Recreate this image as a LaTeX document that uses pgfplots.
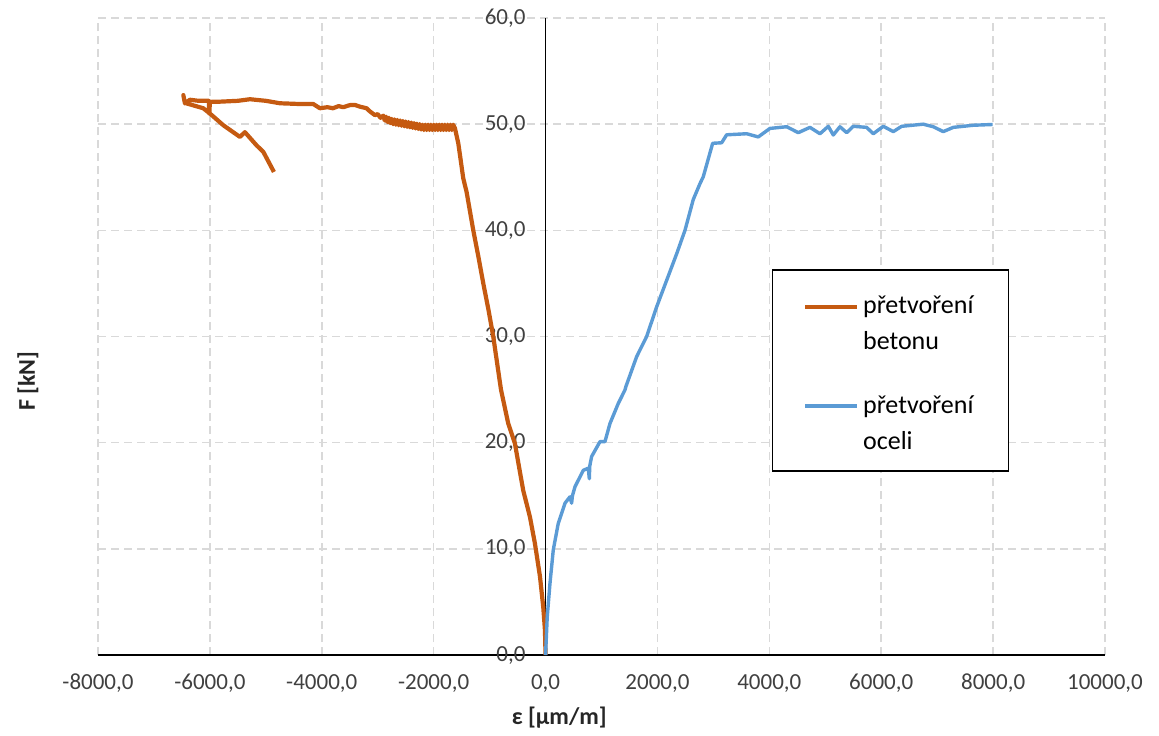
\documentclass[border=0pt]{standalone}
\usepackage{fontspec}
\setmainfont{Carlito}
\usepackage{pgfplots}
\pgfplotsset{compat=1.18}

\definecolor{beton}{RGB}{197,90,17}
\definecolor{ocel}{RGB}{91,155,213}
\definecolor{mrizka}{RGB}{217,217,217}
\definecolor{popis}{RGB}{64,64,64}

\begin{document}
\begin{tikzpicture}
\begin{axis}[
  at={(0,0)}, anchor=south west,
  scale only axis, width=503.5pt, height=318.5pt,
  xmin=-8000, xmax=10000, ymin=0, ymax=60,
  clip=false, scaled ticks=false,
  axis x line=bottom, axis y line=center,
  hide obscured x ticks=false, hide obscured y ticks=false,
  axis line style={-, black, line width=0.9pt},
  xtick={-8000,-6000,...,10000},
  xticklabels={{-8000,0},{-6000,0},{-4000,0},{-2000,0},{0,0},{2000,0},{4000,0},{6000,0},{8000,0},{10000,0}},
  ytick={0,10,...,60},
  yticklabels={{0,0},{10,0},{20,0},{30,0},{40,0},{50,0},{60,0}},
  major tick length=0pt,
  tick label style={font=\fontsize{11.5}{14}\selectfont, text=popis},
  xticklabel style={yshift=-6pt},
  yticklabel style={xshift=-6.5pt},
  grid=major,
  major grid style={draw=mrizka, line width=0.8pt, dash pattern=on 4pt off 2.5pt},
  legend style={at={(rel axis cs:0.669,0.606)}, anchor=north west,
    draw=black, line width=0.8pt, fill=white,
    inner xsep=15.5pt, inner ysep=7.5pt, row sep=13.5pt,
    font=\fontsize{13}{18}\selectfont,
    nodes={anchor=base west},
    /tikz/every even column/.append style={column sep=3pt}},
  legend image code/.code={\draw[#1, line width=1.8pt] (0pt,21.5pt) -- (26pt,21.5pt);},
]

% deformace betonu (tlak)
\addplot[beton, line width=2.1pt, line join=round] coordinates {
(0,0) (-11,2.35) (-41,4.5) (-100,7.4) (-190,10.5) (-279,13.0) (-399,15.5)
(-450,17.0) (-547,19.9) (-667,21.8) (-797,25.0) (-935,30.0) (-1020,32.5)
(-1113,35.0) (-1200,37.5) (-1292,40.0) (-1411,43.6) (-1471,44.9) (-1560,48.2)
(-1619,49.6)
(-1650,49.95) (-1675,49.45) (-1700,49.95) (-1725,49.45) (-1750,49.95) (-1775,49.45)
(-1800,49.95) (-1825,49.45) (-1850,49.95) (-1875,49.45) (-1900,49.95) (-1925,49.45)
(-1950,49.95) (-1975,49.45) (-2000,49.95) (-2025,49.45) (-2050,49.95) (-2075,49.45)
(-2100,49.95) (-2125,49.45) (-2150,49.95) (-2175,49.45) (-2200,49.95) (-2225,49.5)
(-2250,50.0) (-2275,49.55) (-2300,50.05) (-2325,49.6) (-2350,50.1) (-2375,49.65)
(-2400,50.15) (-2425,49.7) (-2450,50.2) (-2475,49.75) (-2500,50.25) (-2525,49.8)
(-2550,50.3) (-2575,49.85) (-2600,50.35) (-2625,49.9) (-2650,50.4) (-2675,49.95)
(-2700,50.45) (-2725,50.0) (-2750,50.5) (-2775,50.1) (-2800,50.6) (-2825,50.2)
(-2850,50.7) (-2875,50.35) (-2900,50.8) (-2950,50.6) (-3000,50.95) (-3050,50.85)
(-3139,51.2) (-3200,51.5) (-3318,51.65) (-3400,51.8) (-3496,51.8)
(-3616,51.6) (-3700,51.7) (-3800,51.5) (-3900,51.6) (-4033,51.5) (-4152,51.9)
(-4400,51.9) (-4748,51.97) (-5000,52.2) (-5284,52.35) (-5500,52.2) (-5820,52.12)
(-6000,52.1) (-6010,51.0) (-6020,52.2) (-6200,52.2) (-6357,52.3) (-6446,51.96)
(-6475,52.74) (-6446,52.0) (-6118,51.5) (-5999,51.0) (-5760,49.9) (-5463,48.8)
(-5374,49.25) (-5165,48.0) (-5046,47.4) (-4855,45.5)
};
\addlegendentry{\begin{tabular}[b]{@{}l@{}}přetvoření\\betonu\end{tabular}}

% deformace výztuže (tah)
\addplot[ocel, line width=1.7pt, line join=round] coordinates {
(0,0) (30,3.6) (79,6.75) (138,9.9) (227,12.4) (347,14.3) (436,14.9) (466,14.3)
(480,15.0) (526,15.85) (675,17.4) (764,17.6) (782,16.6) (790,17.8) (824,18.7)
(973,20.1) (1062,20.1) (1151,21.8) (1300,23.7) (1419,24.96) (1437,25.3)
(1628,28.1) (1807,30.0) (1986,32.8) (2165,35.3) (2344,37.8) (2492,40.0)
(2640,42.9) (2760,44.4) (2819,45.05) (2987,48.2) (3148,48.25) (3237,49.0)
(3595,49.1) (3802,48.8) (4011,49.6) (4310,49.76) (4517,49.2) (4726,49.7)
(4905,49.1) (5054,49.8) (5143,48.98) (5262,49.76) (5382,49.2) (5500,49.8)
(5739,49.7) (5858,49.1) (6037,49.8) (6216,49.3) (6365,49.8) (6751,50.0)
(6930,49.76) (7109,49.3) (7288,49.7) (7646,49.9) (7992,49.97)
};
\addlegendentry{\begin{tabular}[b]{@{}l@{}}přetvoření\\oceli\end{tabular}}

\node[rotate=90, font=\fontsize{12}{14}\bfseries\selectfont, text=black!85]
  at (rel axis cs:-0.0695,0.43) {F [kN]};
\node[font=\fontsize{12}{14}\bfseries\selectfont, text=black!85]
  at (rel axis cs:0.458,-0.099) {ε [µm/m]};
\end{axis}
\pgfresetboundingbox
\path (-49pt,-40pt) rectangle (530.5pt,327.5pt);
\end{tikzpicture}
\end{document}
